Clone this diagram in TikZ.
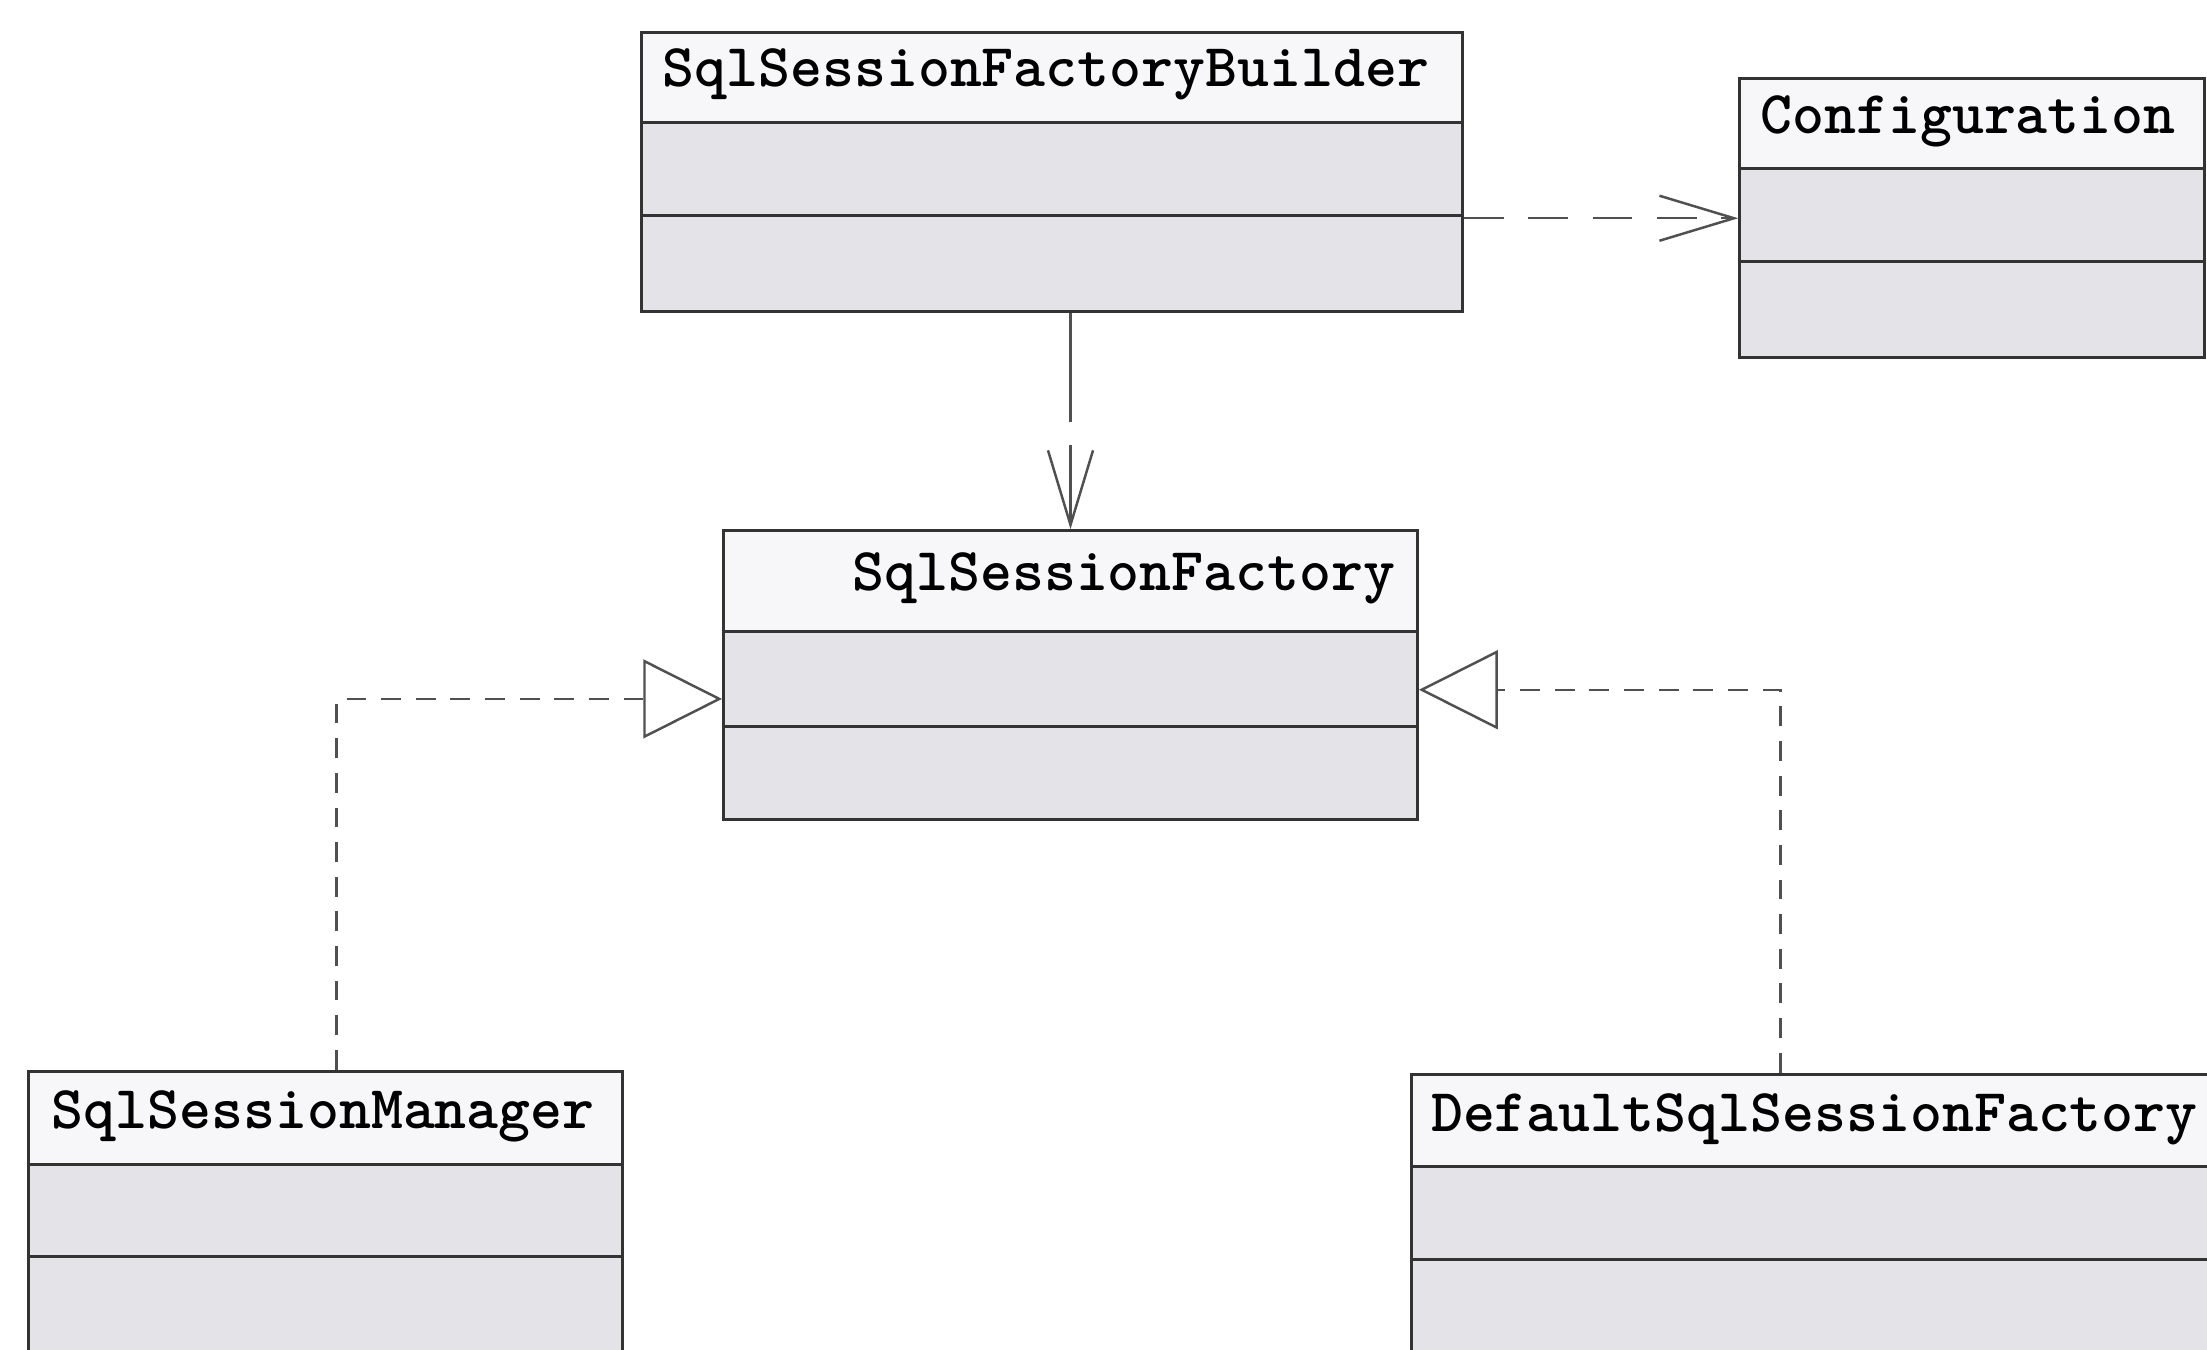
\documentclass[tikz,border=0pt]{standalone}
\usepackage{fontspec}
\usetikzlibrary{arrows.meta, calc}
\definecolor{boxgray}{HTML}{E4E4E8}
\definecolor{titlewhite}{HTML}{F7F7F9}
\definecolor{linegray}{HTML}{505050}

\tikzset{
  classbox/.style={draw=black!80, line width=0.6pt, fill=boxgray, inner sep=0pt, anchor=north west,
    path picture={\fill[titlewhite] (path picture bounding box.north west) rectangle ([yshift=-#1]path picture bounding box.north east);}},
  classname/.style={font=\ttfamily\bfseries\fontsize{12.3}{14}\selectfont, inner sep=0pt, text=black},
  divider/.style={draw=black!80, line width=0.6pt},
  depend/.style={draw=linegray, line width=0.5pt, dash pattern=on 8pt off 5pt, -{Straight Barb[length=0.53cm, width=0.32cm]}},
  realize/.style={draw=linegray, line width=0.5pt, dash pattern=on 4pt off 3pt, -{Triangle[open, length=0.56cm, width=0.56cm]}}
}

\begin{document}
\begin{tikzpicture}
\useasboundingbox[fill=white] (0,0) rectangle (15.68,-9.59);

% SqlSessionFactoryBuilder
\node[classbox=0.65cm, minimum width=5.83cm, minimum height=1.98cm] (builder) at (4.55,-0.22) {};
\draw[divider] ($(builder.north west)+(0,-0.65)$) -- ($(builder.north east)+(0,-0.65)$);
\draw[divider] ($(builder.north west)+(0,-1.31)$) -- ($(builder.north east)+(0,-1.31)$);
\node[classname, anchor=west] (builder-name) at ($(builder.north west)+(0.15,-0.31)$) {SqlSessionFactoryBuilder};

% Configuration
\node[classbox=0.65cm, minimum width=3.30cm, minimum height=1.98cm] (config) at (12.35,-0.55) {};
\draw[divider] ($(config.north west)+(0,-0.65)$) -- ($(config.north east)+(0,-0.65)$);
\draw[divider] ($(config.north west)+(0,-1.31)$) -- ($(config.north east)+(0,-1.31)$);
\node[classname, anchor=west] (config-name) at ($(config.north west)+(0.15,-0.31)$) {Configuration};

% SqlSessionFactory
\node[classbox=0.73cm, minimum width=4.93cm, minimum height=2.05cm] (factory) at (5.13,-3.76) {};
\draw[divider] ($(factory.north west)+(0,-0.73)$) -- ($(factory.north east)+(0,-0.73)$);
\draw[divider] ($(factory.north west)+(0,-1.40)$) -- ($(factory.north east)+(0,-1.40)$);
\node[classname, anchor=east] (factory-name) at ($(factory.north east)+(-0.16,-0.35)$) {SqlSessionFactory};

% SqlSessionManager
\node[classbox=0.67cm, minimum width=4.22cm, minimum height=2.60cm] (manager) at (0.19,-7.60) {};
\draw[divider] ($(manager.north west)+(0,-0.67)$) -- ($(manager.north east)+(0,-0.67)$);
\draw[divider] ($(manager.north west)+(0,-1.33)$) -- ($(manager.north east)+(0,-1.33)$);
\node[classname, anchor=west] (manager-name) at ($(manager.north west)+(0.17,-0.33)$) {SqlSessionManager};

% DefaultSqlSessionFactory
\node[classbox=0.67cm, minimum width=6.00cm, minimum height=2.60cm] (default) at (10.02,-7.62) {};
\draw[divider] ($(default.north west)+(0,-0.67)$) -- ($(default.north east)+(0,-0.67)$);
\draw[divider] ($(default.north west)+(0,-1.33)$) -- ($(default.north east)+(0,-1.33)$);
\node[classname, anchor=west] (default-name) at ($(default.north west)+(0.14,-0.33)$) {DefaultSqlSessionFactory};

% dependencies
\draw[depend] (builder.east |- config.west) -- (config.west);
\draw[depend, dash pattern=on 0.78cm off 0.16cm] (factory.north |- builder.south) -- (factory.north);

% realizations
\draw[realize] ($(manager.north)+(0.08,0)$) |- ($(factory.west)+(0,-0.17)$);
\draw[realize] ($(default.north west)+(2.63,0)$) |- ($(factory.east)+(0,-0.105)$);
\end{tikzpicture}
\end{document}
